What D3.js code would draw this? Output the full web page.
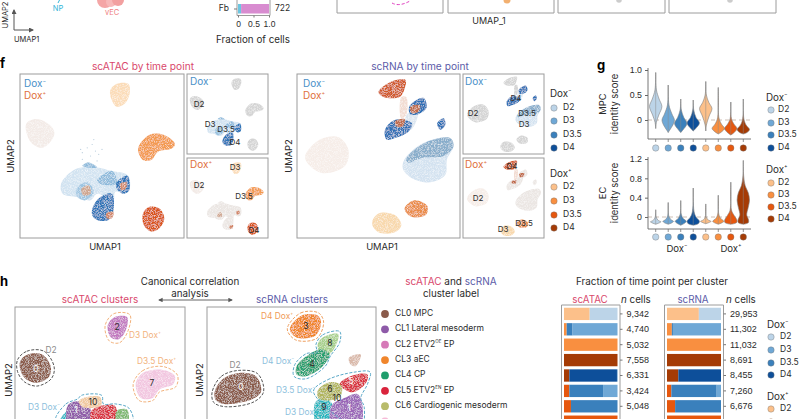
<!DOCTYPE html>
<html><head><meta charset="utf-8">
<script src="https://cdn.jsdelivr.net/npm/d3@7"></script>
<style>
html,body{margin:0;padding:0;background:#fff;overflow:hidden}
svg{display:block;font-family:Inter,"Noto Sans",sans-serif}
</style></head><body>
<svg id="c" width="800" height="419" viewBox="0 0 800 419"></svg>
<script>
// ---------- palette categories ----------
const timePoints = ["D2","D3","D3.5","D4"];
const doxMinusColors = ["#bcd4e8","#6fa8d6","#3a80bc","#0d4f9a"];
const doxPlusColors = ["#fcc08a","#f98f40","#e6570e","#a53b05"];
const crimson="#d9486c", indigo="#5b5ba8", ink="#2b2b2b", frame="#9c9c9c";

// ---------- panel f: scATAC UMAP outlines (UMAP units 0-100) ----------
const atacD2Plus=[[4,70],[10,72.5],[18,69],[21,64],[18,58],[13,55],[7,58],[4,64]];
const atacD3Plus=[[55,90],[59,94],[66,94],[67,89],[64,82],[59,80],[56,84]];
const atacD35Plus=[[72,54.5],[79,63],[87.5,63],[94.5,57.5],[92.5,54.5],[84,52.5],[80,47.5],[75,47.5]];
const atacD4Plus=[[75,15],[79,19],[85,18],[88,12],[85,6],[80,4],[75.5,8]];
const atacLightBlue=[[25,33],[34,42],[47,43],[55,41],[66,38],[66,28],[58,28],[57,23],[47,27],[43,23],[35,25],[26,27]];
const atacMidBlueA=[[47,35],[56,41],[59,33],[49,33]];
const atacMidBlueB=[[35,31],[41,34],[45,28],[40,23],[35,25]];
const atacMidBlueC=[[38,44],[42,46],[47,43],[41,43]];
const atacD4Lower=[[44.5,19],[49,25],[56,27],[57,17],[54,11],[47,11],[44,14]];
const atacD4Right=[[59,34],[65.5,38],[66.5,29],[63,27],[59,30]];
const atacTanA=[[37.5,30],[42,32],[43,27],[38.5,26]];
const atacTanB=[[52.5,15],[57,16],[56,12],[53,12]];
const atacTanC=[[61,33],[65,34],[64.5,30],[62,29]];
const atacLayers=[
 [atacD2Plus,"#f3ebe7","+"],[atacD3Plus,"#fbdcb8","+"],[atacD35Plus,"#f39a50","+"],[atacD4Plus,"#d9541a","+"],
 [atacLightBlue,"#d2e3f1","-"],[atacMidBlueA,"#8dbadb","-"],[atacMidBlueB,"#9cc4e1","-"],[atacMidBlueC,"#8dbadb","-"],
 [atacD4Lower,"#2e74b8","-"],[atacD4Right,"#2e74b8","-"],
 [atacTanA,"#cfa58e","t"],[atacTanB,"#d2876a","t"],[atacTanC,"#d2876a","t"]];
const atacStrayX=[38,41,44,46,48,50,38,43,47,41,45,37];
const atacStrayY=[52,55,57,53,51,54,48,50,47,46,60,54];

// ---------- panel f: scRNA UMAP outlines ----------
const rnaD2Plus=[[5,50],[14,60],[25.5,61.5],[31.5,54],[29.5,44],[16,39.5],[7,45]];
const rnaD3Plus=[[46,9],[50,15],[60,14],[64,8],[60,3.5],[50,3.5]];
const rnaD35Plus=[[66,18],[72,23],[80,19.5],[79,14],[70,13]];
const rnaD4Plus=[[50,89],[57,95],[66.5,96.5],[66,91],[63,86],[53,86]];
const rnaD4Upper=[[69,80.5],[77.5,85.5],[79.5,79.5],[74.5,75.5],[69.5,75.5]];
const rnaD4Lower=[[54,66],[60,72],[70.5,70],[68.5,65],[60,61],[55,60]];
const rnaD4Small=[[86,70],[90,73],[91,69],[88,66]];
const rnaStrandA=[[64,86],[67,86],[67,75],[64,73]];
const rnaStrandB=[[68,76],[74,76],[70,66],[66,67]];
const rnaD3Minus=[[66,48],[77.5,58],[94,61],[96,56],[92,48],[91,38.5],[82,34],[70.5,36.5],[65,42]];
const rnaD35Minus=[[67,48],[77.5,57.5],[94,61],[96,56],[90,50],[77,49],[68,46]];
const rnaTanA=[[60,71],[66,72.5],[65,68],[61,68]];
const rnaTanB=[[69.5,80],[75.5,81],[74.5,77],[70.5,76]];
const rnaLayers=[
 [rnaD2Plus,"#f6ede8","+"],[rnaD3Plus,"#f8d8ac","+"],[rnaD35Plus,"#ea8d4a","+"],[rnaD4Plus,"#d15a2a","+"],
 [rnaStrandA,"#f2dcd2","+"],[rnaStrandB,"#dce6f0","-"],
 [rnaD3Minus,"#d3e2f0","-"],[rnaD35Minus,"#88adcb","-"],
 [rnaD4Upper,"#2f6fb5","-"],[rnaD4Lower,"#2f6fb5","-"],[rnaD4Small,"#2f6fb5","-"],
 [rnaTanA,"#c06a4a","t"],[rnaTanB,"#c06a4a","t"]];

// ---------- panel g: violin profiles [score, relative density] ----------
const mpcViolins=[
 [[-.17,0],[-.05,.1],[.1,.5],[.27,1],[.42,.55],[.6,.12],[.95,0]],
 [[-.25,0],[-.2,.25],[-.1,.75],[0,1],[.12,.6],[.3,.12],[.7,0]],
 [[-.25,0],[-.2,.35],[-.07,1],[.05,.5],[.2,.1],[.42,0]],
 [[-.22,0],[-.17,.4],[-.06,1],[.05,.45],[.2,.08],[.4,0]],
 [[-.22,0],[-.1,.1],[.08,.55],[.23,1],[.35,.5],[.5,.1],[.77,0]],
 [[-.28,0],[-.24,.5],[-.17,1],[-.08,.5],[.05,.1],[.65,0]],
 [[-.3,0],[-.25,.55],[-.17,1],[-.08,.5],[.03,.1],[.36,0]],
 [[-.28,0],[-.25,.6],[-.19,1],[-.1,.45],[.02,.1],[.42,0]]];
const ecViolins=[
 [[-.15,0],[-.12,.6],[-.1,.85],[-.07,.4],[0,.08],[.15,0]],
 [[-.15,0],[-.12,.6],[-.09,.85],[-.05,.4],[.03,.08],[.3,0]],
 [[-.17,0],[-.13,.6],[-.09,.9],[-.03,.4],[.06,.08],[.34,0]],
 [[-.17,0],[-.14,.8],[-.09,1],[0,.45],[.12,.12],[.6,0]],
 [[-.14,0],[-.11,.6],[-.09,.85],[-.06,.4],[0,.06],[.27,0]],
 [[-.15,0],[-.12,.6],[-.09,.9],[-.03,.4],[.06,.08],[.45,0]],
 [[-.15,0],[-.12,.9],[-.07,1],[.03,.55],[.14,.12],[.72,0]],
 [[-.15,0],[-.12,.8],[-.06,.85],[.04,.55],[.2,.8],[.35,1],[.5,.8],[.65,.3],[.85,.06],[1.17,0]]];
const mpcTicks=[0,.5,1], ecTicks=[0,.4,.8,1.2];

// ---------- panel h: cluster outlines ----------
const hAtac0=[[3,68],[7.5,72],[16,72],[21,65],[20,59],[13,55.5],[6.5,57.5],[3.5,62]];
const hAtac2=[[54.5,89],[58.5,94],[66,94],[65,86],[61,81],[56.5,82]];
const hAtac7=[[71,54.5],[75,61],[87,63],[94,59.5],[93,54.5],[85,51.5],[81,46.5],[74,46.5]];
const hAtac10=[[37.5,44.5],[42,47],[50,47],[50.5,42],[40,41]];
const hAtac1=[[31,42],[37,44.5],[44,41],[42,28],[32,28]];
const hAtac5=[[45,39],[58.5,42],[59.5,30],[46,30]];
const hAtac6=[[60,39],[66,39.5],[66,30],[60,30]];
const hAtac9=[[24,28],[31,39],[32,28]];
const hAtacHullD2=[[1.5,69],[7,74],[17,74],[23,65],[21.5,58],[13,53.5],[5.5,56],[1.5,62]];
const hAtacHullD3=[[53,89],[58,96],[67.5,95.5],[66.5,86],[61.5,79],[55.5,80]];
const hAtacHullD35=[[69.5,54.5],[75,62.5],[87,65],[95.5,60],[94.5,53],[85,50],[81,45],[73,45]];
const hAtacHullMinus=[[24,33],[30,43],[37,46],[39,48],[51,48],[52,43],[59,43],[67,40.5],[69,32]];
const hRna0=[[4.5,49.5],[9.5,57.5],[19,61],[29,59],[32,50],[27,45.5],[11,42.5],[5.5,44.5]];
const hRna3=[[49,87],[56,95],[65.5,95],[67.5,91],[64,83],[53,82]];
const hRna8=[[65.5,78],[68.5,82],[77.5,84],[77,79],[72,72],[66.5,74]];
const hRna4=[[53,65],[59,71],[67.5,75],[72.5,72],[68.5,65],[58.5,59],[53,60]];
const hRna5=[[78.5,54.5],[88,60],[95,60],[94,55],[86,49.5]];
const hRna6=[[65.5,50.5],[72.5,55.5],[79.5,53.5],[78.5,46.5],[66.5,45.5]];
const hRna9=[[64,43.5],[68.5,46],[73.5,43.5],[73.5,28],[65.5,28]];
const hRna1=[[73.5,41.5],[80,45.5],[89,48.5],[92,41.5],[90,28],[74.5,28]];
const hRnaSmall=[[84,70],[91,72],[88,65],[85,66]];
const hRnaHullD2=[[3,49.5],[8.5,59],[19,62.5],[30,60.5],[33.5,50],[28,44],[11,41],[4,43.5]];
const hRnaHullD4p=[[47.5,87],[55.5,96.5],[66,96.5],[69,91],[65,81.5],[52.5,80.5]];
const hRnaHullD4a=[[64.5,78],[68.5,83.5],[78.5,85.5],[78.5,79],[73,71],[70,65],[58.5,57.5],[51.5,59],[52,66],[59,72.5],[65,73]];
const hRnaHullD35=[[63,50],[71.5,57],[87.5,61.5],[96.5,61.5],[95,54.5],[91,46],[93,41],[91,28]];
const hAtacLayers=[[hAtac0,"#8a5a4a"],[hAtac2,"#c278c0"],[hAtac7,"#f2c6e0"],[hAtac9,"#35b7c6"],[hAtac1,"#8e5aa8"],[hAtac5,"#d9303f"],[hAtac6,"#7db870"],[hAtac10,"#f0c9a0"]];
const hRnaLayers=[[hRna0,"#8a5a4a"],[hRna3,"#f0862c"],[hRna8,"#a8d08c"],[hRna4,"#27a070"],[hRna5,"#d9303f"],[hRna9,"#28b8c0"],[hRna1,"#9a66b8"],[hRna6,"#b0b45a"],[hRnaSmall,"#d9b8a8"]];
const hAtacHulls=[[hAtacHullD2,"#555555"],[hAtacHullD3,"#f2b27c"],[hAtacHullD35,"#f2b27c"],[hAtacHullMinus,"#5aa8c8"]];
const hRnaHulls=[[hRnaHullD2,"#555555"],[hRnaHullD4p,"#f0a060"],[hRnaHullD4a,"#5aa8c8"],[hRnaHullD35,"#5aa8c8"]];

// ---------- cluster legend ----------
const clusterNames=["MPC","Lateral mesoderm","ETV2|OE|EP","aEC","CP","ETV2|EN|EP","Cardiogenic mesoderm"];
const clusterColors=["#8a5a4a","#8e5aa8","#d67ab8","#f0862c","#1f9e6c","#d9243c","#b8bb6a","#f6bcd8"];

// ---------- panel h: stacked bars ----------
const barKeys=["D2+","D3+","D3.5+","D4+","D4-","D3.5-","D3-","D2-"];
const barColors=["#fcc08a","#f98f40","#e6570e","#a53b05","#0d4f9a","#3a80bc","#6fa8d6","#bcd4e8"];
const atacFractions=[
 [.48,0,0,0,0,0,0,.52],[0,.05,0,0,0,.11,.84,0],[0,1,0,0,0,0,0,0],[0,0,0,1,0,0,0,0],
 [0,0,0,.1,.89,.01,0,0],[0,0,.1,0,0,.63,.27,0],[0,0,.13,0,0,.87,0,0],[0,0,1,0,0,0,0,0]];
const rnaFractions=[
 [.59,0,0,0,0,0,0,.41],[0,.09,0,0,0,.02,.89,0],[0,1,0,0,0,0,0,0],[0,0,0,1,0,0,0,0],
 [0,0,0,.21,.79,0,0,0],[0,.0,.08,0,0,.84,.08,0],[0,0,.15,0,0,.85,0,0],[0,0,1,0,0,0,0,0]];
const atacCells=["9,342","4,740","5,032","7,558","6,331","3,424","5,048",""];
const rnaCells=["29,953","11,302","11,032","8,691","8,455","7,260","6,676",""];

// ---------- helpers ----------
const svg=d3.select("#c");
const defs=svg.append("defs");
const grain=defs.append("filter").attr("id","grain").attr("x","-5%").attr("y","-5%").attr("width","110%").attr("height","110%");
grain.append("feTurbulence").attr("type","fractalNoise").attr("baseFrequency",1.3).attr("numOctaves",2).attr("seed",7).attr("result","n");
grain.append("feColorMatrix").attr("in","n").attr("type","matrix").attr("values","0 0 0 0 1  0 0 0 0 1  0 0 0 0 1  0 0 0 1.5 -.62").attr("result","s");
grain.append("feComposite").attr("in","s").attr("in2","SourceAlpha").attr("operator","in").attr("result","sp");
const gm=grain.append("feMerge").attr("result","m");
gm.append("feMergeNode").attr("in","SourceGraphic");gm.append("feMergeNode").attr("in","sp");
grain.append("feGaussianBlur").attr("in","m").attr("stdDeviation",.4);

function txt(x,y,s,o={}){
  return svg.append("text").attr("x",x).attr("y",y).text(s)
    .attr("font-size",o.size||9).attr("fill",o.fill||ink)
    .attr("text-anchor",o.anchor||"start").attr("dominant-baseline","middle")
    .attr("font-weight",o.weight||400);
}
function vtxt(x,y,s,o={}){
  return svg.append("text").attr("transform",`translate(${x},${y}) rotate(-90)`).text(s)
    .attr("font-size",o.size||9).attr("fill",o.fill||ink)
    .attr("text-anchor","middle").attr("dominant-baseline","middle");
}
function dox(x,y,sign,o={}){
  const size=o.size||9.5;
  const t=svg.append("text").attr("x",x).attr("y",y).attr("font-size",size)
    .attr("fill",o.fill||ink).attr("text-anchor",o.anchor||"start").attr("dominant-baseline","middle");
  t.append("tspan").text(o.prefix?o.prefix+" Dox":"Dox");
  t.append("tspan").text(sign==="-"?"\u2212":"+").attr("font-size",size*.55).attr("dy",-size*.35);
  return t;
}
function box(x0,y0,x1,y1){
  svg.append("rect").attr("x",x0).attr("y",y0).attr("width",x1-x0).attr("height",y1-y0)
    .attr("fill","none").attr("stroke",frame).attr("stroke-width",1);
}
const blobPath=(sx,sy)=>d3.line().x(d=>sx(d[0])).y(d=>sy(d[1])).curve(d3.curveCatmullRomClosed.alpha(.5));
function umap(x0,y0,x1,y1,layers,mode){
  const sx=d3.scaleLinear([0,100],[x0,x1]), sy=d3.scaleLinear([0,100],[y1,y0]);
  const path=blobPath(sx,sy);
  const g=svg.append("g").attr("filter","url(#grain)");
  const pal=(l)=>{
    if(mode==="all")return l[1];
    if(mode==="-")return l[2]==="-"?l[1]:"#d4d4d4";
    return l[2]==="-"?"#ebe6e3":l[1];
  };
  g.selectAll("path").data(layers.filter(l=>!(mode==="-"&&l[2]==="t"))).join("path")
    .attr("d",l=>path(l[0])).attr("fill",pal);
  box(x0,y0,x1,y1);
  return {sx,sy};
}
function clusters(x0,y0,x1,layers,hulls){
  const side=x1-x0;
  const sx=d3.scaleLinear([0,100],[x0,x1]), sy=d3.scaleLinear([0,100],[y0+side,y0]);
  const path=blobPath(sx,sy);
  svg.append("g").attr("filter","url(#grain)").selectAll("path").data(layers).join("path")
    .attr("d",l=>path(l[0])).attr("fill",l=>l[1]);
  svg.append("g").selectAll("path").data(hulls).join("path")
    .attr("d",l=>path(l[0])).attr("fill","none").attr("stroke",l=>l[1])
    .attr("stroke-width",1).attr("stroke-dasharray","3 1.5");
  box(x0,y0,x1,y0+side);
}
function legend(x,yTitle,sign,ys,colors,stroke){
  dox(x,yTitle,sign,{size:9.8});
  ys.forEach((y,i)=>{
    svg.append("circle").attr("cx",x+(stroke?5:4)).attr("cy",y).attr("r",3.2).attr("fill",colors[i]).attr("stroke","#777").attr("stroke-width",.4);
    if(y<414)txt(x+(stroke?12:13),y,timePoints[i],{size:8.5});
  });
}

// ---------- top fragments ----------
vtxt(6,15,"UMAP2",{size:7.5});
const ar=defs.append("marker").attr("id","ah").attr("markerWidth",6).attr("markerHeight",6).attr("refX",4).attr("refY",2.5).attr("orient","auto-start-reverse");
ar.append("path").attr("d","M0,0 L5,2.5 L0,5 Z").attr("fill","#555");
svg.append("path").attr("d","M14,10 V30 H33").attr("fill","none").attr("stroke","#555").attr("stroke-width",1)
  .attr("marker-start","url(#ah)").attr("marker-end","url(#ah)");
txt(14,40,"UMAP1",{size:7.5});
txt(58,9,"NP",{size:7.5,fill:"#35b5d8",anchor:"middle"});
svg.append("path").attr("d","M60,-1 L58,3").attr("stroke","#35b5d8").attr("stroke-width",1);
txt(112,12.5,"vEC",{size:7.5,fill:"#ef7f7f",anchor:"middle"});
const vecColors=["#f4a6a6","#f7b9b9","#f2a0a0"], vecX=[105,111,118], vecY=[0,2,0], vecR=[8,5,6];
svg.append("g").selectAll("circle").data(vecX).join("circle").attr("cx",d=>d).attr("cy",(d,i)=>vecY[i]).attr("r",(d,i)=>vecR[i]).attr("fill",(d,i)=>vecColors[i]);
txt(229,9,"Fb",{size:8.5,anchor:"end"}).attr("x",229);
const fbScale=d3.scaleLinear([0,1],[238,269]);
const fbFractions=[.1,.9], fbColors=["#6cc5e0","#d88cd0"];
let cum=0;
fbFractions.forEach((f,i)=>{
  svg.append("rect").attr("x",fbScale(cum)).attr("y",4).attr("width",fbScale(cum+f)-fbScale(cum)).attr("height",9.5).attr("fill",fbColors[i]);
  cum+=f;
});
svg.append("path").attr("d","M237,0 V15.5 H270 V0").attr("fill","none").attr("stroke",frame).attr("stroke-width",1);
svg.append("path").attr("d","M234,9 H237").attr("stroke","#777");
svg.append("g").attr("transform","translate(0,15.5)")
  .call(d3.axisBottom(fbScale).tickValues([0,.5,1]).tickFormat(d=>d===0?"0":d3.format(".1f")(d)).tickSize(2).tickPadding(3))
  .call(g=>{g.select(".domain").remove();g.selectAll("text").attr("font-size",8.5).attr("font-family",null).attr("fill",ink);g.selectAll("line").attr("stroke","#777");});
txt(275,9,"722",{size:8.5});
txt(253,40,"Fraction of cells",{size:9.8,anchor:"middle"});
[[337,443],[448,554],[558,665],[669,776]].forEach(b=>{
  svg.append("path").attr("d",`M${b[0]},0 V13 H${b[1]} V0`).attr("fill","none").attr("stroke",frame).attr("stroke-width",1);
});
svg.append("path").attr("d","M392,3 Q399,7 410,1").attr("fill","none").attr("stroke","#e040c0").attr("stroke-width",1).attr("stroke-dasharray","3 2");
svg.append("circle").attr("cx",507).attr("cy",0).attr("r",3.5).attr("fill","#f2b070");
svg.append("circle").attr("cx",619).attr("cy",0).attr("r",2.8).attr("fill","#cccccc");
svg.append("circle").attr("cx",730).attr("cy",0).attr("r",2.8).attr("fill","#cccccc");
txt(489,22,"UMAP_1",{size:9,anchor:"middle"});

// ---------- panel f ----------
txt(0,64,"f",{size:13,weight:700,fill:"#000"});
txt(143,67,"scATAC by time point",{size:10.2,fill:crimson,anchor:"middle"});
txt(420,67,"scRNA by time point",{size:10.2,fill:indigo,anchor:"middle"});
const mainA=umap(20,74,184,238,atacLayers,"all");
svg.append("g").selectAll("circle").data(atacStrayX).join("circle")
  .attr("cx",d=>mainA.sx(d)).attr("cy",(d,i)=>mainA.sy(atacStrayY[i])).attr("r",.6).attr("fill","#b8ccdc");
umap(187,74,268,154,atacLayers,"-");
umap(187,158,268,238,atacLayers,"+");
umap(297,74,460,238,rnaLayers,"all");
umap(463,74,544,154,rnaLayers,"-");
umap(463,158,544,238,rnaLayers,"+");
dox(24,84,"-",{fill:"#4a90c8",size:10});dox(24,96,"+",{fill:"#e0703a",size:10});
dox(190,82,"-",{fill:"#4a90c8",size:10});dox(190,165,"+",{fill:"#e0703a",size:10});
dox(303,84,"-",{fill:"#4a90c8",size:10});dox(303,96,"+",{fill:"#e0703a",size:10});
dox(465,82,"-",{fill:"#4a90c8",size:10});dox(465,165,"+",{fill:"#e0703a",size:10});
const smallAtacNames=["D2","D3","D3.5","D4","D3","D2","D3.5","D4"];
const smallAtacX=[199,210,226,235,235,199,244,254], smallAtacY=[105,125,130,143,168,186,197,231];
smallAtacNames.forEach((s,i)=>txt(smallAtacX[i],smallAtacY[i],s,{size:8,anchor:"middle"}));
const smallRnaNames=["D2","D4","D3.5","D3","D4","D2","D3.5","D3"];
const smallRnaX=[473,516,527,524,512,478,524,503], smallRnaY=[114,99,114,125,167,199,224,230];
smallRnaNames.forEach((s,i)=>txt(smallRnaX[i],smallRnaY[i],s,{size:8,anchor:"middle"}));
vtxt(11,156,"UMAP2",{size:9.4});vtxt(289,156,"UMAP2",{size:9.4});
txt(105,247,"UMAP1",{anchor:"middle",size:9.4});txt(382,247,"UMAP1",{anchor:"middle",size:9.4});
legend(550,94,"-",[108,121,135,148],doxMinusColors,false);
legend(550,174,"+",[187,201,215,228],doxPlusColors,false);

// ---------- panel g ----------
txt(597,66,"g",{size:13,weight:700,fill:"#000"});
const vx=d3.scalePoint().domain(d3.range(8)).range([655.7,743.3]);
const violinColors=doxMinusColors.concat(doxPlusColors);
const vw=d3.scaleLinear([0,1],[0,6.2]);
violinColors.forEach((c,i)=>{
  const gr=defs.append("linearGradient").attr("id","vg"+i).attr("x1",0).attr("y1",0).attr("x2",0).attr("y2",1);
  gr.append("stop").attr("offset",0).attr("stop-color",c).attr("stop-opacity",.2);
  gr.append("stop").attr("offset",.35).attr("stop-color",c);
  gr.append("stop").attr("offset",1).attr("stop-color",c);
});
function violins(dom,rng,bottom,ticks,fmt,profiles,dotY){
  const y=d3.scaleLinear(dom,rng);
  const g=svg.append("g");
  g.append("line").attr("x1",648).attr("x2",751).attr("y1",y(0)).attr("y2",y(0)).attr("stroke","#c8b8ac").attr("stroke-dasharray","4 3").attr("stroke-width",.9);
  const area=d3.area().curve(d3.curveCatmullRom.alpha(.5)).y(d=>y(d[0]));
  profiles.forEach((p,i)=>{
    const a=area.x0(d=>vx(i)-vw(d[1])).x1(d=>vx(i)+vw(d[1]));
    g.append("path").attr("d",a(p)).attr("fill",`url(#vg${i})`).attr("stroke","#808080").attr("stroke-width",.6);
    g.append("line").attr("x1",vx(i)).attr("x2",vx(i)).attr("y1",y(p[0][0])).attr("y2",y(p[p.length-1][0])).attr("stroke","#8a8a8a").attr("stroke-width",.5);
    g.append("line").attr("x1",vx(i)).attr("x2",vx(i)).attr("y1",bottom).attr("y2",bottom+3).attr("stroke","#666").attr("stroke-width",.7);
    g.append("circle").attr("cx",vx(i)).attr("cy",dotY).attr("r",3.2).attr("fill",violinColors[i]).attr("stroke","#777").attr("stroke-width",.4);
  });
  const ax=svg.append("g").attr("transform","translate(648,0)")
    .call(d3.axisLeft(y).tickValues(ticks).tickFormat(fmt).tickSize(3).tickPadding(3));
  ax.select(".domain").remove();
  ax.selectAll("text").attr("font-size",8.8).attr("font-family",null).attr("fill",ink);
  ax.selectAll("line").attr("stroke","#666");
  svg.append("path").attr("d",`M648,${y(dom[1])-2} V${bottom} H751`).attr("fill","none").attr("stroke","#666").attr("stroke-width",.9);
}
const f1=d=>d===0?"0":d3.format(".1f")(d);
violins([0,1],[120,70],139,mpcTicks,f1,mpcViolins,148);
violins([0,1.2],[217,159],229,ecTicks,f1,ecViolins,237);
vtxt(603,104,"MPC",{size:9.4});vtxt(615,104,"identity score",{size:9.4});
vtxt(603,193,"EC",{size:9.4});vtxt(615,193,"identity score",{size:9.4});
dox(677,249,"-",{anchor:"middle",size:9.6});dox(731,249,"+",{anchor:"middle",size:9.6});
legend(766,98,"-",[110,123,135,148],doxMinusColors,true);
legend(766,170,"+",[183,195,207,219],doxPlusColors,true);

// ---------- panel h ----------
txt(0,282,"h",{size:13,weight:700,fill:"#000"});
txt(190,282,"Canonical correlation",{size:9.8,anchor:"middle"});
txt(190,294,"analysis",{size:9.8,anchor:"middle"});
svg.append("path").attr("d","M159,300 H232").attr("stroke","#555").attr("stroke-width",.9)
  .attr("marker-start","url(#ah)").attr("marker-end","url(#ah)");
txt(100,300,"scATAC clusters",{size:10,fill:crimson,anchor:"middle"});
txt(292,300,"scRNA clusters",{size:10,fill:indigo,anchor:"middle"});
clusters(15,307,185,hAtacLayers,hAtacHulls);
clusters(207,307,376,hRnaLayers,hRnaHulls);
vtxt(9,380,"UMAP2",{size:9.4});vtxt(200,380,"UMAP2",{size:9.4});
const hLabelNames=["2","0","7","10","1","3","8","4","5","6","10","9","1","0"];
const hLabelX=[117,36,152,93,76,306,330,312,351,330,337,324,349,241];
const hLabelY=[328,370,384,403,411,327,344,365,382,390,399,408,409,388];
const hLabelFill=[ink,"#fff",ink,ink,"#fff",ink,ink,ink,"#fff",ink,ink,ink,"#fff","#fff"];
hLabelNames.forEach((s,i)=>txt(hLabelX[i],hLabelY[i],s,{size:8.5,anchor:"middle",fill:hLabelFill[i]}));
txt(51,351,"D2",{size:8.4,fill:"#8a8a8a",anchor:"middle"});
txt(235,366,"D2",{size:8.4,fill:"#8a8a8a",anchor:"middle"});
dox(129,336,"+",{fill:"#f2b27c",size:8.4,prefix:"D3"});
dox(137,362,"+",{fill:"#f2b27c",size:8.4,prefix:"D3.5"});
dox(28,408,"-",{fill:"#8cc0dc",size:8.4,prefix:"D3"});
dox(261,317,"+",{fill:"#f09a55",size:8.4,prefix:"D4"});
dox(262,362,"-",{fill:"#8cc0dc",size:8.4,prefix:"D4"});
dox(276,391,"-",{fill:"#8cc0dc",size:8.4,prefix:"D3.5"});
dox(285,413,"-",{fill:"#8cc0dc",size:8.4,prefix:"D3"});

// legend of clusters
const tt=svg.append("text").attr("x",451).attr("y",282).attr("font-size",10).attr("text-anchor","middle").attr("dominant-baseline","middle").attr("fill",ink);
tt.append("tspan").text("scATAC").attr("fill",crimson);tt.append("tspan").text(" and ");tt.append("tspan").text("scRNA").attr("fill",indigo);
txt(451,294,"cluster label",{size:9.8,anchor:"middle"});
const legendY=d3.scalePoint().domain(d3.range(8)).range([314,421.5]);
clusterColors.forEach((c,i)=>svg.append("circle").attr("cx",385).attr("cy",legendY(i)).attr("r",3.9).attr("fill",c));
clusterNames.forEach((n,i)=>{
  const t=svg.append("text").attr("x",395).attr("y",legendY(i)).attr("font-size",8.5).attr("fill",ink).attr("dominant-baseline","middle");
  const p=n.split("|");
  t.append("tspan").text(`CL${i} ${p[0]}`);
  if(p.length>1){
    t.append("tspan").text(p[1]).attr("font-size",4.5).attr("dy",-3);
    t.append("tspan").text(" "+p[2]).attr("dy",3);
  }
});

// stacked bars
txt(652,282,"Fraction of time point per cluster",{size:9.9,anchor:"middle"});
txt(590,300,"scATAC",{size:9.8,fill:crimson,anchor:"middle"});
txt(693,300,"scRNA",{size:9.8,fill:indigo,anchor:"middle"});
function nCells(x){
  const t=svg.append("text").attr("x",x).attr("y",300).attr("font-size",9.8).attr("fill",ink).attr("dominant-baseline","middle");
  t.append("tspan").text("n").attr("font-style","italic");t.append("tspan").text(" cells");
}
nCells(621);nCells(726);
function stacks(x0,x1,rows,labels){
  const sx=d3.scaleLinear([0,1],[x0,x1]);
  const sy=d3.scaleBand().domain(d3.range(rows.length)).range([306.2,429.4]).paddingInner(.2).paddingOuter(.1);
  const stack=d3.stack().keys(d3.range(barKeys.length))(rows);
  const g=svg.append("g");
  g.selectAll("g").data(stack).join("g").attr("fill",s=>barColors[s.key])
    .selectAll("rect").data(s=>s).join("rect")
    .attr("x",d=>sx(d[0])).attr("width",d=>sx(d[1])-sx(d[0]))
    .attr("y",(d,i)=>sy(i)).attr("height",sy.bandwidth());
  svg.append("path").attr("d",`M${x0-2.5},425 V305 H${x1+2.5} V425`).attr("fill","none").attr("stroke",frame).attr("stroke-width",1);
  const ax=svg.append("g").attr("transform",`translate(${x1+2.5},0)`)
    .call(d3.axisRight(sy).tickFormat(i=>labels[i]).tickSize(2.5).tickPadding(4));
  ax.select(".domain").remove();
  ax.selectAll("text").attr("font-size",9).attr("font-family",null).attr("fill",ink);
  ax.selectAll("line").attr("stroke","#777");
}
stacks(564,617.5,atacFractions,atacCells);
stacks(667,721,rnaFractions,rnaCells);
legend(767,325,"-",[337,350,363,375],doxMinusColors,false);
legend(767,397,"+",[409,422,435,448],doxPlusColors,false);
</script>
</body></html>
